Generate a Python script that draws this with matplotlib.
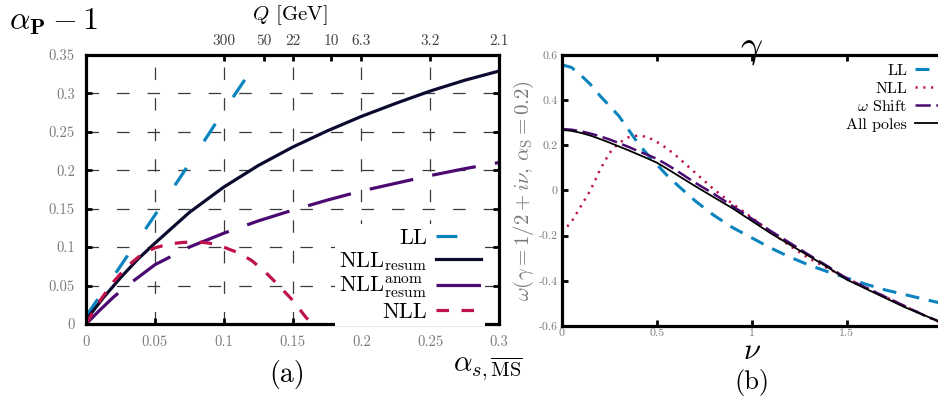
import matplotlib
matplotlib.use('Agg')
import matplotlib.pyplot as plt

plt.rcParams['font.family'] = 'serif'
plt.rcParams['font.serif'] = ['cmr10', 'DejaVu Serif']
plt.rcParams['mathtext.fontset'] = 'cm'
plt.rcParams['axes.formatter.use_mathtext'] = True
plt.rcParams['lines.scale_dashes'] = False

# ---- panel (a): alpha_P - 1 vs alpha_s ----
a_ll = [0, 0.02, 0.04, 0.06, 0.08, 0.1, 0.12, 0.13]
p_ll = [0.01, 0.062, 0.115, 0.168, 0.222, 0.277, 0.33, 0.357]

a_resum = [0, 0.0125, 0.025, 0.0375, 0.05, 0.075, 0.1, 0.125, 0.15, 0.175, 0.2, 0.225, 0.25, 0.275, 0.3]
p_resum = [0.005, 0.034, 0.06, 0.084, 0.105, 0.145, 0.178, 0.206, 0.23, 0.251, 0.27, 0.287, 0.303, 0.317, 0.329]

a_anom = [0, 0.01, 0.02, 0.03, 0.05, 0.075, 0.1, 0.125, 0.15, 0.175, 0.2, 0.225, 0.25, 0.275, 0.3]
p_anom = [0.0, 0.018, 0.035, 0.05, 0.077, 0.1, 0.118, 0.134, 0.148, 0.161, 0.173, 0.183, 0.193, 0.202, 0.21]

a_nll = [0, 0.01, 0.02, 0.03, 0.04, 0.05, 0.06, 0.07, 0.08, 0.09, 0.1, 0.11, 0.12, 0.13, 0.14, 0.15, 0.16, 0.165]
p_nll = [0, 0.03, 0.055, 0.075, 0.09, 0.099, 0.104, 0.106, 0.107, 0.105, 0.1, 0.093, 0.083, 0.068, 0.05, 0.031, 0.008, 0.0]

a_ticks = [0, 0.05, 0.1, 0.15, 0.2, 0.25, 0.3]
a_ticklabels = ['0', '0.05', '0.1', '0.15', '0.2', '0.25', '0.3']
p_ticks = [0, 0.05, 0.1, 0.15, 0.2, 0.25, 0.3, 0.35]
p_ticklabels = ['0', '0.05', '0.1', '0.15', '0.2', '0.25', '0.3', '0.35']
q_alpha = [0.1, 0.1295, 0.15, 0.178, 0.2, 0.25, 0.3]
q_labels = ['300', '50', '22', '10', '6.3', '3.2', '2.1']

# ---- panel (b): omega(gamma = 1/2 + i nu) ----
nu = [0, 0.05, 0.1, 0.15, 0.2, 0.25, 0.3, 0.35, 0.4, 0.45, 0.5, 0.55, 0.6, 0.7, 0.8, 0.9,
      1.0, 1.1, 1.2, 1.3, 1.4, 1.5, 1.6, 1.7, 1.8, 1.9, 2.0]
w_ll = [0.556, 0.545, 0.51, 0.47, 0.42, 0.375, 0.33, 0.27, 0.21, 0.16, 0.115, 0.07, 0.03, -0.045, -0.11, -0.165,
        -0.21, -0.255, -0.295, -0.33, -0.36, -0.388, -0.415, -0.44, -0.46, -0.48, -0.5]
w_nll = [-0.185, -0.14, -0.07, 0.0, 0.09, 0.165, 0.21, 0.235, 0.243, 0.237, 0.215, 0.188, 0.155, 0.08, 0.005, -0.06,
         -0.12, -0.185, -0.245, -0.3, -0.345, -0.39, -0.43, -0.47, -0.51, -0.55, -0.588]
w_shift = [0.272, 0.269, 0.262, 0.252, 0.24, 0.226, 0.21, 0.193, 0.175, 0.158, 0.14, 0.116, 0.09, 0.035, -0.015, -0.07,
           -0.125, -0.18, -0.232, -0.285, -0.336, -0.39, -0.43, -0.47, -0.51, -0.55, -0.585]
w_poles = [0.268, 0.264, 0.255, 0.243, 0.228, 0.212, 0.195, 0.178, 0.16, 0.142, 0.123, 0.098, 0.072, 0.02, -0.03, -0.08,
           -0.135, -0.19, -0.24, -0.29, -0.34, -0.395, -0.435, -0.475, -0.515, -0.55, -0.585]

nu_ticks = [0, 0.5, 1, 1.5]
nu_ticklabels = ['0', '0.5', '1', '1.5']
w_ticks = [0.6, 0.4, 0.2, 0, -0.2, -0.4, -0.6]
w_ticklabels = ['0.6', '0.4', '0.2', '0', '-0.2', '-0.4', '-0.6']

c_ll = '#0a84bf'
c_resum = '#0b0b30'
c_anom = '#4b0a72'
c_nll = '#c0124a'
grey = '#7a7a7a'

fig = plt.figure(figsize=(9.38, 3.98), dpi=100)

# ---------------- (a) ----------------
ax1 = fig.add_axes([0.0917, 0.186, 0.4403, 0.676])
ax1.plot(a_ll, p_ll, color=c_ll, lw=2.3, dashes=(15, 23), label='LL')
ax1.plot(a_resum, p_resum, color=c_resum, lw=2.3, label=r'NLL$_{\rm resum}$')
ax1.plot(a_anom, p_anom, color=c_anom, lw=2.3, dashes=(32, 14), label=r'NLL$^{\rm anom}_{\rm resum}$')
ax1.plot(a_nll, p_nll, color=c_nll, lw=2.3, dashes=(9, 9), label='NLL')
ax1.set_xlim(0, 0.3)
ax1.set_ylim(0, 0.35)
ax1.set_xticks(a_ticks)
ax1.set_xticklabels(a_ticklabels)
ax1.set_yticks(p_ticks)
ax1.set_yticklabels(p_ticklabels)
for s in ax1.spines.values():
    s.set_linewidth(2.3)
ax1.tick_params(direction='in', length=4, width=2, colors='black', labelcolor=grey,
                labelsize=10.5, pad=8, right=True, top=True, labeltop=False)
for v in a_ticks[1:-1]:
    ax1.axvline(v, color='#3a3a3a', lw=0.9, dashes=(9, 13), zorder=0)
for v in p_ticks[1:-1]:
    ax1.axhline(v, color='#3a3a3a', lw=0.9, dashes=(9, 13), zorder=0)

axq = ax1.twiny()
axq.set_xlim(0, 0.3)
axq.set_xticks(q_alpha)
axq.set_xticklabels(q_labels)
axq.tick_params(direction='in', length=4, width=2, labelcolor='#444444', labelsize=11, pad=5)
for s in axq.spines.values():
    s.set_visible(False)

leg1 = ax1.legend(loc='lower right', bbox_to_anchor=(0.517, 0.18), bbox_transform=fig.transFigure,
                  markerfirst=False, fontsize=16, handlelength=2.0, handletextpad=0.4,
                  labelspacing=0.1, borderpad=0.2, borderaxespad=0, frameon=True,
                  framealpha=1, fancybox=False)
leg1.get_frame().set_edgecolor('none')

fig.text(0.01, 0.945, r'$\alpha_{\mathbf{P}} - 1$', fontsize=23, va='center', ha='left')
fig.text(0.309, 0.962, r'$Q$ [GeV]', fontsize=15, va='center', ha='center')
fig.text(0.52, 0.072, r'$\alpha_{s,\overline{\rm MS}}$', fontsize=21, va='center', ha='center')
fig.text(0.306, 0.06, '(a)', fontsize=20, va='center', ha='center')

# ---------------- (b) ----------------
ax2 = fig.add_axes([0.599, 0.181, 0.405, 0.681])
ax2.plot(nu, w_ll, color=c_ll, lw=2.2, dashes=(10, 7), label='LL')
ax2.plot(nu, w_nll, color=c_nll, lw=1.8, dashes=(1.6, 4), label='NLL')
ax2.plot(nu, w_shift, color=c_anom, lw=1.8, dashes=(11, 4), label=r'$\omega$ Shift')
ax2.plot(nu, w_poles, color='black', lw=1.3, label='All poles')
ax2.set_xlim(0, 2)
ax2.set_ylim(-0.6, 0.6)
ax2.set_xticks(nu_ticks)
ax2.set_xticklabels(nu_ticklabels)
ax2.set_yticks(w_ticks)
ax2.set_yticklabels(w_ticklabels)
for s in ax2.spines.values():
    s.set_linewidth(2.3)
ax2.tick_params(direction='in', length=4, width=2, labelcolor=grey, labelsize=8.5, pad=3, top=True)
ax2.tick_params(axis='x', pad=2)
ax2.set_title(r'$\gamma$', fontsize=28, pad=-1)
ax2.set_ylabel(r'$\omega(\gamma = 1/2 + i\nu,\,\alpha_{\rm S} = 0.2)$', fontsize=15, color=grey, labelpad=2)

leg2 = ax2.legend(loc='upper right', bbox_to_anchor=(1.03, 0.848), bbox_transform=fig.transFigure,
                  markerfirst=False, fontsize=11.5, handlelength=3.0, handletextpad=0.5,
                  labelspacing=0.22, borderpad=0.2, borderaxespad=0, frameon=False)

fig.text(0.802, 0.118, r'$\nu$', fontsize=22, va='center', ha='center')
fig.text(0.802, 0.04, '(b)', fontsize=19, va='center', ha='center')

fig.savefig('out.png', dpi=100)
